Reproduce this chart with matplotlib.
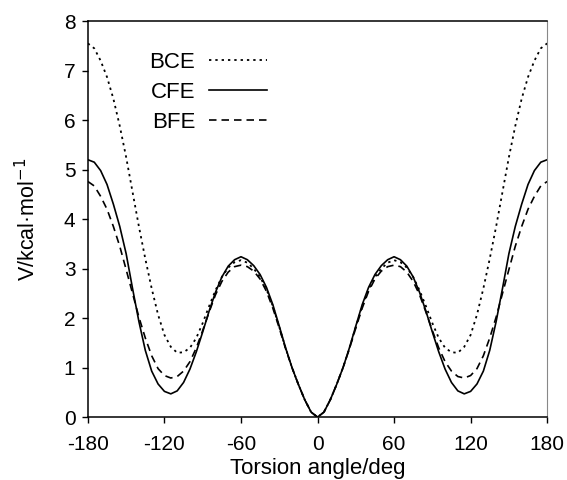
import matplotlib
matplotlib.use("Agg")
import matplotlib.pyplot as plt
import numpy as np

plt.rcParams['font.family'] = ['Liberation Sans', 'DejaVu Sans']
plt.rcParams['axes.unicode_minus'] = False

angle = list(range(-180, 185, 5))

cfe = [5.2, 5.15, 4.98, 4.7, 4.3, 3.85, 3.3, 2.6, 1.93, 1.35, 0.93, 0.67, 0.52, 0.47, 0.53, 0.7,
       0.97, 1.32, 1.72, 2.14, 2.52, 2.83, 3.05, 3.18, 3.24, 3.18, 3.06, 2.88, 2.62, 2.27, 1.84, 1.4,
       1.0, 0.66, 0.35, 0.1, 0.0,
       0.1, 0.35, 0.66, 1.0, 1.4, 1.84, 2.27, 2.62, 2.88, 3.06, 3.18, 3.24, 3.18, 3.05, 2.83, 2.52,
       2.14, 1.72, 1.32, 0.97, 0.7, 0.53, 0.47, 0.52, 0.67, 0.93, 1.35, 1.93, 2.6, 3.3, 3.85, 4.3,
       4.7, 4.98, 5.15, 5.2]

bce = [7.55, 7.45, 7.2, 6.87, 6.43, 5.88, 5.25, 4.55, 3.85, 3.2, 2.6, 2.07, 1.66, 1.42, 1.3, 1.31,
       1.4, 1.6, 1.9, 2.24, 2.56, 2.83, 3.02, 3.13, 3.17, 3.12, 3.0, 2.83, 2.58, 2.24, 1.82, 1.39,
       1.0, 0.66, 0.35, 0.1, 0.0,
       0.1, 0.35, 0.66, 1.0, 1.39, 1.82, 2.24, 2.58, 2.83, 3.0, 3.12, 3.17, 3.13, 3.02, 2.83, 2.56,
       2.24, 1.9, 1.6, 1.4, 1.31, 1.3, 1.42, 1.66, 2.07, 2.6, 3.2, 3.85, 4.55, 5.25, 5.88, 6.43,
       6.87, 7.2, 7.45, 7.55]

bfe = [4.76, 4.67, 4.46, 4.2, 3.85, 3.45, 2.98, 2.5, 2.02, 1.6, 1.24, 0.98, 0.84, 0.79, 0.82, 0.93,
       1.12, 1.4, 1.75, 2.12, 2.47, 2.74, 2.93, 3.04, 3.07, 3.04, 2.95, 2.79, 2.54, 2.2, 1.8, 1.38,
       1.0, 0.66, 0.35, 0.1, 0.0,
       0.1, 0.35, 0.66, 1.0, 1.38, 1.8, 2.2, 2.54, 2.79, 2.95, 3.04, 3.07, 3.04, 2.93, 2.74, 2.47,
       2.12, 1.75, 1.4, 1.12, 0.93, 0.82, 0.79, 0.84, 0.98, 1.24, 1.6, 2.02, 2.5, 2.98, 3.45, 3.85,
       4.2, 4.46, 4.67, 4.76]

xticks = [-180, -120, -60, 0, 60, 120, 180]
yticks = [0, 1, 2, 3, 4, 5, 6, 7, 8]

fig = plt.figure(figsize=(5.67, 4.8), dpi=100)
ax = fig.add_axes([0.155, 0.131, 0.81, 0.825])

ax.plot(angle, bce, color='black', lw=1.3, linestyle=(0, (1.3, 2.2)), label='BCE')
ax.plot(angle, cfe, color='black', lw=1.2, linestyle='-', label='CFE')
ax.plot(angle, bfe, color='black', lw=1.2, linestyle=(0, (4.5, 3.0)), label='BFE')

ax.set_xlim(-180, 180)
ax.set_ylim(0, 8)
ax.set_xticks(xticks)
ax.set_yticks(yticks)
ax.tick_params(axis='both', direction='out', length=4, width=1, labelsize=15, color='black')
ax.tick_params(axis='x', pad=9)
ax.tick_params(axis='y', pad=5)
for s in ['left', 'bottom', 'top']:
    ax.spines[s].set_linewidth(1.1)
ax.spines['right'].set_linewidth(0.8)
ax.spines['right'].set_color('#888888')

ax.set_xlabel('Torsion angle/deg', fontsize=16)
ax.xaxis.set_label_coords(0.5, -0.129)
ax.xaxis.label.set_va('center')
ax.set_ylabel('V/kcal\u00b7mol$^{-1}$', fontsize=15.5)
ax.yaxis.set_label_coords(-0.131, 0.5)
ax.yaxis.label.set_va('center')

leg = ax.legend(loc='upper left', bbox_to_anchor=(0.115, 0.945), frameon=False,
                markerfirst=False, fontsize=16, handlelength=2.6, handletextpad=0.63,
                labelspacing=0.4, borderaxespad=0)

fig.savefig('out.png', dpi=100)
